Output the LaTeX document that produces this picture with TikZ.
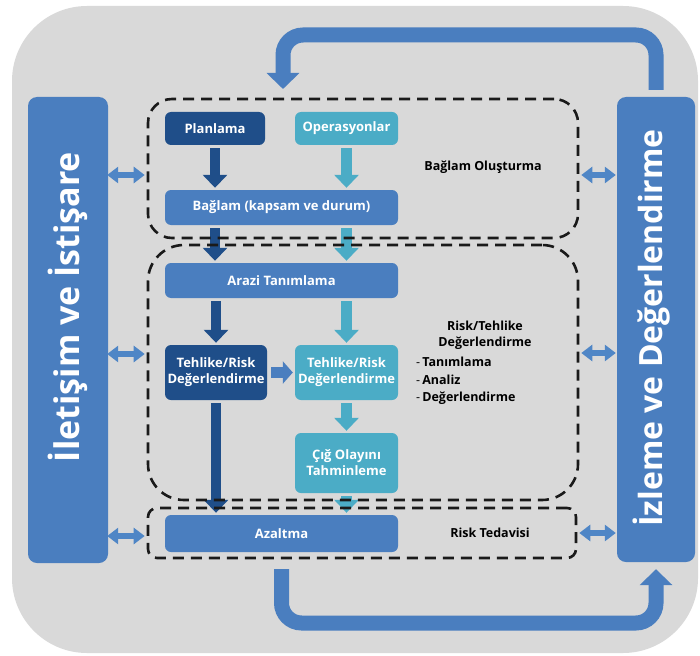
\documentclass[tikz,border=0pt]{standalone}
\usepackage{fontspec}
\setmainfont{Open Sans}
\usetikzlibrary{arrows.meta,calc}
\definecolor{bgc}{HTML}{D9D9D9}
\definecolor{midb}{HTML}{4A7EBF}
\definecolor{darkb}{HTML}{1F4E89}
\definecolor{tealc}{HTML}{4BACC6}
\definecolor{arrb}{HTML}{4F86C6}
\definecolor{dashc}{HTML}{1A1A1A}
\tikzset{
  boxbase/.style={rounded corners=6pt, inner sep=0pt, text=white, align=center,
    font=\fontsize{13}{16}\selectfont\bfseries},
  darkbox/.style={boxbase, fill=darkb},
  tealbox/.style={boxbase, fill=tealc},
  midbox/.style={boxbase, fill=midb},
  sidebar/.style={fill=midb, rounded corners=9pt, inner sep=0pt},
  bartext/.style={text=white, rotate=90, inner sep=0pt},
  dashbox/.style={draw=dashc, line width=2.6pt, dash pattern=on 11pt off 7pt, inner sep=0pt},
  darkarr/.style={draw=darkb, line width=10.5pt, -{Triangle[width=24pt,length=13pt]}, shorten <=3pt, shorten >=2pt},
  tealarr/.style={draw=tealc, line width=10.5pt, -{Triangle[width=24pt,length=13pt]}, shorten <=3pt, shorten >=2pt},
  midarr/.style={draw=midb, line width=11pt, -{Triangle[width=22pt,length=10pt]}},
  dblarr/.style={draw=arrb, line width=6pt, {Triangle[width=16pt,length=11pt]}-{Triangle[width=16pt,length=11pt]}},
  bigarr/.style={draw=midb, line width=15pt, rounded corners=20pt, -{Triangle[width=32pt,length=16pt]}},
  annot/.style={text=black, inner sep=0pt, font=\fontsize{12.5}{15}\selectfont\bfseries},
}
\begin{document}
\begin{tikzpicture}[x=1pt,y=-1pt]
\useasboundingbox (0,0) rectangle (700,655);
\fill[bgc, rounded corners=75pt] (12,6) rectangle (698,653);

% side bars
\node[sidebar, minimum width=80pt, minimum height=466pt] (lbar) at (68,330) {};
\node[sidebar, minimum width=78pt, minimum height=465pt] (rbar) at (656,329.5) {};

% content boxes
\node[darkbox, minimum width=100pt, minimum height=33pt] (plan) at (215,128.5) {Planlama};
\node[tealbox, minimum width=103pt, minimum height=33pt] (oper) at (346.5,128.5) {Operasyonlar};
\node[midbox, minimum width=233pt, minimum height=35pt] (bag) at (281.5,207.5) {Bağlam (kapsam ve durum)};
\node[midbox, minimum width=233pt, minimum height=35pt] (arazi) at (281.5,280.5) {Arazi Tanımlama};
\node[darkbox, minimum width=102pt, minimum height=55pt] (teh1) at (216,372.5) {Tehlike/Risk\\Değerlendirme};
\node[tealbox, minimum width=103pt, minimum height=55pt] (teh2) at (346.5,372.5) {Tehlike/Risk\\Değerlendirme};
\node[tealbox, minimum width=103pt, minimum height=60pt] (cig) at (346.5,463) {Çığ Olayını\\Tahminleme};
\node[midbox, minimum width=233pt, minimum height=37pt] (azal) at (281.5,533.5) {Azaltma};

% block arrows between boxes
\draw[darkarr] (plan.south) -- (plan.south |- bag.north);
\draw[tealarr] (oper.south) -- (oper.south |- bag.north);
\draw[darkarr] (plan.south |- bag.south) -- (plan.south |- arazi.north);
\draw[tealarr] (oper.south |- bag.south) -- (oper.south |- arazi.north);
\draw[darkarr] (teh1.north |- arazi.south) -- (teh1.north);
\draw[tealarr] (teh2.north |- arazi.south) -- (teh2.north);
\draw[midarr, shorten <=4pt, shorten >=2pt] (teh1.east) -- (teh2.west);
\draw[tealarr] (teh2.south) -- (cig.north);
\draw[darkarr] (teh1.south) -- (teh1.south |- azal.north);
\draw[tealarr] (cig.south) -- (cig.south |- azal.north);

% dashed groups
\node[dashbox, rounded corners=24pt, minimum width=430pt, minimum height=139pt] (grp1) at (363,168.5) {};
\node[dashbox, rounded corners=36pt, minimum width=430pt, minimum height=255pt] (grp2) at (363,372.5) {};
\node[dashbox, rounded corners=9pt, minimum width=428pt, minimum height=50pt] (grp3) at (362,533) {};

% double arrows
\coordinate (la1) at (0,175);
\coordinate (la2) at (0,354);
\coordinate (la3) at (0,536);
\coordinate (ra1) at (0,175);
\coordinate (ra2) at (0,353);
\coordinate (ra3) at (0,533);
\draw[dblarr, shorten <=-1pt, shorten >=2pt] (lbar.east |- la1) -- (grp1.west |- la1);
\draw[dblarr, shorten <=-1pt, shorten >=2pt] (lbar.east |- la2) -- (grp2.west |- la2);
\draw[dblarr, shorten <=-1pt, shorten >=2pt] (lbar.east |- la3) -- (grp3.west |- la3);
\draw[dblarr, shorten <=2pt, shorten >=1pt] (grp1.east |- ra1) -- (rbar.west |- ra1);
\draw[dblarr, shorten <=2pt, shorten >=1pt] (grp2.east |- ra2) -- (rbar.west |- ra2);
\draw[dblarr, shorten <=2pt, shorten >=1pt] (grp3.east |- ra3) -- (rbar.west |- ra3);

% annotations
\node[annot] (t1) at (483,167) {Bağlam Oluşturma};
\node[annot] (t2) at (485,326) {Risk/Tehlike};
\node[annot] (t3) at (485,343) {Değerlendirme};
\node[annot, anchor=west] (t4) at (416,362) {\mdseries-\,\bfseries Tanımlama};
\node[annot, anchor=west] (t5) at (416,380) {\mdseries-\,\bfseries Analiz};
\node[annot, anchor=west] (t6) at (416,398) {\mdseries-\,\bfseries Değerlendirme};
\node[annot] (t7) at (490,533) {Risk Tedavisi};

% bar texts
\node[bartext, font=\fontsize{34}{40}\selectfont\bfseries] (ltxt) at (68,307) {İletişim ve İstişare};
\node[bartext, font=\fontsize{32}{38}\selectfont\bfseries] (rtxt) at (652,328) {İzleme ve Değerlendirme};

% big loop arrows
\coordinate (topy) at (0,35);
\coordinate (topend) at (283,89);
\coordinate (boty) at (0,623);
\draw[bigarr, shorten <=7pt] (rbar.north) -- (rbar.north |- topy) -- (topend |- topy) -- (topend);
\draw[bigarr, shorten <=17pt, shorten >=7pt] (azal.south) -- (azal.south |- boty) -- (rbar.south |- boty) -- (rbar.south);
\end{tikzpicture}
\end{document}
